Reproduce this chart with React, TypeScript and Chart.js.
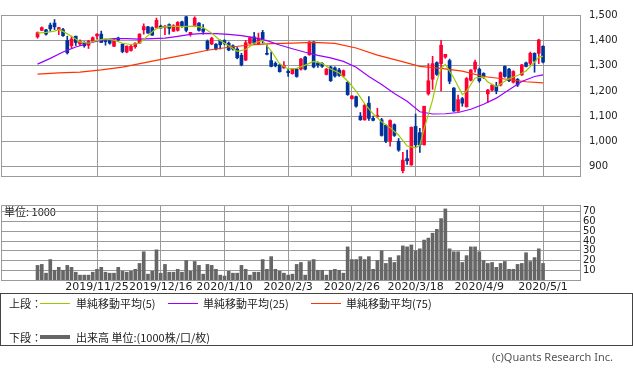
import React, { useEffect, useRef } from "react";
import { Chart, registerables } from "chart.js";
Chart.register(...registerables);

// ---- data ----
const DATE_LABELS = ["2019/11/25", "2019/12/16", "2020/1/10", "2020/2/3", "2020/2/26", "2020/3/18", "2020/4/9", "2020/5/1"];
const DATE_AT = [14, 29, 44, 59, 74, 89, 104, 119];

const OPEN = [
  1415, 1441, 1443, 1462, 1470, 1444, 1444, 1401, 1380, 1418,
  1387, 1392, 1382, 1398, 1419, 1426, 1398, 1401, 1378, 1411,
  1386, 1355, 1361, 1376, 1390, 1443, 1455, 1452, 1452, 1458,
  1453, 1464, 1438, 1441, 1475, 1495, 1427, 1458, 1470, 1446,
  1398, 1387, 1386, 1401, 1401, 1390, 1380, 1367, 1342, 1323,
  1390, 1415, 1387, 1433, 1350, 1321, 1310, 1304, 1292, 1279,
  1269, 1287, 1287, 1335, 1344, 1395, 1312, 1310, 1266, 1296,
  1292, 1284, 1260, 1235, 1170, 1178, 1101, 1086, 1152, 1092,
  1098, 1086, 1064, 1001, 1067, 1001, 884, 932, 907, 1060,
  1035, 987, 1189, 1247, 1313, 1309, 1335, 1321, 1212, 1121,
  1170, 1138, 1243, 1287, 1287, 1270, 1189, 1204, 1220, 1224,
  1298, 1287, 1235, 1247, 1264, 1312, 1310, 1350, 1350, 1378,
];
const HIGH = [
  1435, 1455, 1445, 1470, 1484, 1453, 1449, 1418, 1418, 1418,
  1403, 1396, 1401, 1415, 1428, 1438, 1407, 1406, 1406, 1414,
  1389, 1380, 1384, 1392, 1428, 1467, 1457, 1455, 1490, 1462,
  1460, 1467, 1464, 1476, 1478, 1497, 1433, 1495, 1472, 1464,
  1403, 1414, 1389, 1403, 1404, 1395, 1384, 1373, 1350, 1401,
  1414, 1433, 1430, 1441, 1384, 1355, 1316, 1307, 1317, 1287,
  1290, 1290, 1330, 1338, 1397, 1397, 1316, 1313, 1290, 1299,
  1296, 1290, 1284, 1238, 1181, 1180, 1115, 1147, 1178, 1101,
  1132, 1092, 1067, 1086, 1070, 1012, 957, 966, 1058, 1109,
  1052, 1140, 1309, 1338, 1316, 1401, 1346, 1327, 1214, 1184,
  1175, 1254, 1285, 1323, 1292, 1273, 1207, 1227, 1235, 1276,
  1300, 1290, 1281, 1250, 1306, 1315, 1355, 1352, 1406, 1380,
];
const LOW = [
  1410, 1440, 1422, 1438, 1444, 1424, 1417, 1347, 1369, 1381,
  1380, 1374, 1369, 1395, 1406, 1393, 1382, 1386, 1376, 1401,
  1352, 1352, 1358, 1370, 1388, 1426, 1430, 1421, 1447, 1450,
  1424, 1426, 1436, 1438, 1453, 1435, 1418, 1455, 1438, 1426,
  1361, 1384, 1363, 1367, 1383, 1360, 1362, 1328, 1300, 1321,
  1387, 1384, 1384, 1390, 1344, 1296, 1296, 1275, 1290, 1258,
  1267, 1255, 1283, 1284, 1342, 1292, 1294, 1294, 1264, 1238,
  1255, 1258, 1256, 1183, 1168, 1136, 1084, 1084, 1084, 1082,
  1095, 1021, 995, 981, 1020, 961, 875, 909, 905, 978,
  957, 985, 1184, 1207, 1262, 1201, 1330, 1229, 1119, 1119,
  1140, 1136, 1240, 1275, 1235, 1250, 1155, 1200, 1189, 1220,
  1255, 1237, 1232, 1218, 1262, 1296, 1305, 1275, 1309, 1312,
];
const CLOSE = [
  1432, 1452, 1426, 1447, 1455, 1452, 1420, 1352, 1407, 1393,
  1398, 1380, 1398, 1412, 1426, 1393, 1396, 1390, 1404, 1403,
  1357, 1378, 1378, 1390, 1426, 1456, 1430, 1422, 1481, 1450,
  1458, 1449, 1460, 1473, 1458, 1441, 1433, 1490, 1441, 1437,
  1367, 1410, 1367, 1384, 1390, 1363, 1367, 1332, 1304, 1392,
  1412, 1390, 1410, 1407, 1346, 1298, 1300, 1277, 1301, 1273,
  1287, 1258, 1327, 1287, 1395, 1296, 1303, 1298, 1287, 1241,
  1260, 1262, 1281, 1186, 1181, 1140, 1086, 1144, 1092, 1084,
  1103, 1024, 1001, 1083, 1024, 966, 926, 923, 1056, 987,
  987, 1140, 1241, 1309, 1266, 1382, 1346, 1239, 1121, 1166,
  1152, 1250, 1284, 1315, 1241, 1258, 1204, 1224, 1201, 1273,
  1258, 1241, 1278, 1224, 1304, 1298, 1350, 1319, 1403, 1315,
];
const VOLUME = [
  15, 16, 7, 21, 10, 13, 10, 15, 13, 8, 5, 5, 5, 8, 11,
  13, 8, 7, 7, 13, 9, 8, 9, 11, 17,
  29, 6, 9, 31, 7, 16, 8, 8, 11, 8,
  20, 9, 19, 15, 6, 16, 15, 11, 5, 4,
  9, 7, 7, 15, 11, 5, 8, 8, 21, 11,
  24, 11, 9, 7, 5, 6, 16, 18, 5, 19,
  21, 10, 10, 5, 10, 11, 10, 7, 34,
  21, 21, 24, 21, 24, 11, 20, 30, 17, 23, 18,
  25, 35, 34, 36, 30, 32, 41, 43, 48, 52, 63, 73,
  32, 29, 29, 18, 25, 34, 34, 29, 20, 17, 18, 13,
  17, 19, 11, 11, 16, 17, 28, 19, 23, 32, 17,
];

const MA5_AT = [0, 2, 4, 5, 6, 8, 10, 12, 14, 16, 18, 20, 22, 24, 26, 28, 31, 34, 37, 39, 41, 43, 45, 47, 49, 51, 53, 55, 57, 59, 61, 63, 65, 67, 69, 71, 73, 75, 77, 79, 81, 83, 85, 87, 89, 90, 91, 93, 94, 95, 96, 98, 100, 101, 103, 105, 106, 108, 109, 111, 113, 115, 117, 118, 119];
const MA5 = [1430, 1433, 1438, 1444, 1437, 1418, 1395, 1390, 1401, 1407, 1402, 1390, 1385, 1390, 1420, 1449, 1458, 1456, 1458, 1452, 1430, 1401, 1380, 1358, 1365, 1390, 1401, 1360, 1308, 1288, 1290, 1303, 1318, 1310, 1288, 1272, 1240, 1200, 1150, 1110, 1078, 1055, 1025, 982, 975, 985, 1050, 1165, 1240, 1290, 1306, 1252, 1186, 1200, 1252, 1255, 1236, 1218, 1228, 1250, 1262, 1280, 1315, 1335, 1338];
const MA25_AT = [0, 3, 6, 9, 12, 15, 18, 21, 24, 27, 30, 33, 36, 39, 42, 45, 48, 51, 54, 57, 60, 63, 66, 69, 72, 75, 78, 81, 84, 87, 90, 93, 96, 99, 102, 105, 108, 111, 114, 117, 119];
const MA25 = [1307, 1330, 1355, 1375, 1390, 1402, 1408, 1408, 1406, 1408, 1410, 1417, 1425, 1429, 1428, 1425, 1420, 1412, 1400, 1383, 1368, 1354, 1342, 1332, 1318, 1295, 1258, 1226, 1190, 1160, 1118, 1109, 1110, 1115, 1128, 1148, 1172, 1205, 1238, 1258, 1264];
const MA75_AT = [0, 5, 10, 15, 20, 25, 30, 35, 40, 45, 50, 55, 60, 65, 70, 75, 80, 85, 90, 95, 100, 105, 110, 115, 119];
const MA75 = [1267, 1272, 1275, 1284, 1295, 1312, 1329, 1345, 1362, 1374, 1383, 1388, 1390, 1393, 1389, 1371, 1343, 1321, 1298, 1290, 1279, 1258, 1248, 1237, 1233];

const PRICE_TICKS = [900, 1000, 1100, 1200, 1300, 1400, 1500];
const VOLUME_TICKS = [10, 20, 30, 40, 50, 60, 70];

// ---- styling ----
const X_MIN = -8.6;
const X_MAX = 127.7;
const UP = "#ff0033";
const DOWN = "#003399";
const GRID = "#9a9a9a";
const TEXT = "#222222";
const JP = '"Noto Sans CJK JP", sans-serif';

const framePlugin = {
  id: "frame",
  beforeDatasetsDraw(chart: any) {
    const { ctx, chartArea: a } = chart;
    ctx.save();
    ctx.strokeStyle = GRID;
    ctx.lineWidth = 1;
    ctx.beginPath();
    ctx.moveTo(Math.round(a.left) + 0.5, Math.round(a.bottom));
    ctx.lineTo(Math.round(a.left) + 0.5, Math.round(a.top) + 0.5);
    ctx.lineTo(Math.round(a.right), Math.round(a.top) + 0.5);
    ctx.stroke();
    ctx.restore();
  },
};

const unitPlugin = {
  id: "unitText",
  beforeDraw(chart: any) {
    const { ctx, chartArea: a } = chart;
    ctx.save();
    ctx.fillStyle = TEXT;
    ctx.font = `11px ${JP}`;
    ctx.textBaseline = "middle";
    ctx.textAlign = "left";
    ctx.fillText("単位: 1000", 4, a.top + 7);
    ctx.restore();
  },
};

const xAxis = (showLabels: boolean) => ({
  type: "linear" as const,
  min: X_MIN,
  max: X_MAX,
  offset: false,
  afterBuildTicks: (s: any) => {
    s.ticks = DATE_AT.map((v) => ({ value: v }));
  },
  afterFit: (s: any) => {
    s.height = showLabels ? 14 : 0;
  },
  grid: { color: GRID, drawTicks: false, lineWidth: 1, offset: false },
  border: { color: GRID },
  ticks: {
    display: showLabels,
    autoSkip: false,
    maxRotation: 0,
    padding: 1,
    color: TEXT,
    font: { family: "DejaVu Sans", size: 11 },
    callback: (v: any) => {
      const k = DATE_AT.indexOf(Number(v));
      return k >= 0 ? DATE_LABELS[k] : "";
    },
  },
});

export default function App() {
  const priceRef = useRef<HTMLCanvasElement>(null);
  const volRef = useRef<HTMLCanvasElement>(null);

  useEffect(() => {
    const idx = OPEN.map((_, i) => i);
    const colors = idx.map((i) => (CLOSE[i] >= OPEN[i] ? UP : DOWN));

    const price = new Chart(priceRef.current!, {
      type: "bar",
      data: {
        datasets: [
          {
            type: "line",
            data: MA5_AT.map((x, k) => ({ x, y: MA5[k] })),
            borderColor: "#99cc00",
            borderWidth: 1.2,
            pointRadius: 0,
            order: 0,
          } as any,
          {
            type: "line",
            data: MA25_AT.map((x, k) => ({ x, y: MA25[k] })),
            borderColor: "#9900ff",
            borderWidth: 1.2,
            pointRadius: 0,
            order: 0,
          } as any,
          {
            type: "line",
            data: MA75_AT.map((x, k) => ({ x, y: MA75[k] })),
            borderColor: "#ff3300",
            borderWidth: 1.2,
            pointRadius: 0,
            order: 0,
          } as any,
          {
            type: "bar",
            data: idx.map((i) => ({ x: i, y: [LOW[i], HIGH[i]] })),
            backgroundColor: colors,
            barThickness: 1,
            grouped: false,
            order: 2,
          } as any,
          {
            type: "bar",
            data: idx.map((i) => ({ x: i, y: [OPEN[i], CLOSE[i]] })),
            backgroundColor: colors,
            barThickness: 3,
            minBarLength: 1,
            grouped: false,
            order: 1,
          } as any,
        ],
      },
      options: {
        animation: false,
        responsive: false,
        devicePixelRatio: 1,
        layout: { padding: { left: 1, top: 4, right: 0, bottom: 1 } },
        plugins: { legend: { display: false }, tooltip: { enabled: false } },
        scales: {
          x: xAxis(false) as any,
          y: {
            position: "right",
            min: 863,
            max: 1502,
            afterBuildTicks: (s: any) => {
              s.ticks = PRICE_TICKS.map((v) => ({ value: v }));
            },
            afterFit: (s: any) => {
              s.width = 53;
            },
            grid: { color: GRID, drawTicks: false },
            border: { color: GRID },
            ticks: {
              autoSkip: false,
              padding: 9,
              color: TEXT,
              font: { family: "DejaVu Sans", size: 10 },
              callback: (v: any) => Number(v).toLocaleString("en-US"),
            },
          },
        },
      },
      plugins: [framePlugin],
    });

    const volume = new Chart(volRef.current!, {
      type: "bar",
      data: {
        datasets: [
          {
            data: idx.map((i) => ({ x: i, y: VOLUME[i] })),
            backgroundColor: "#666666",
            barThickness: 3,
            grouped: false,
          } as any,
        ],
      },
      options: {
        animation: false,
        responsive: false,
        devicePixelRatio: 1,
        layout: { padding: { left: 1, top: 6, right: 0, bottom: 2 } },
        plugins: { legend: { display: false }, tooltip: { enabled: false } },
        scales: {
          x: xAxis(true) as any,
          y: {
            position: "right",
            min: 0,
            max: 77,
            afterBuildTicks: (s: any) => {
              s.ticks = VOLUME_TICKS.map((v) => ({ value: v }));
            },
            afterFit: (s: any) => {
              s.width = 53;
            },
            grid: { color: GRID, drawTicks: false },
            border: { color: GRID },
            ticks: {
              autoSkip: false,
              padding: 3,
              color: TEXT,
              font: { family: "DejaVu Sans", size: 10 },
            },
          },
        },
      },
      plugins: [framePlugin, unitPlugin],
    });

    return () => {
      price.destroy();
      volume.destroy();
    };
  }, []);

  const txt = (left: number, center: number, s: string) => (
    <span
      style={{
        position: "absolute",
        left,
        top: center - 7,
        lineHeight: "14px",
        fontSize: 11,
        fontFamily: JP,
        color: TEXT,
        whiteSpace: "nowrap",
      }}
    >
      {s}
    </span>
  );
  const line = (left: number, center: number, w: number, h: number, color: string) => (
    <div
      style={{
        position: "absolute",
        left,
        top: center - Math.floor(h / 2),
        width: w,
        height: h,
        background: color,
      }}
    />
  );

  return (
    <div
      style={{
        position: "absolute",
        left: 0,
        top: 0,
        width: 633,
        height: 373,
        background: "#ffffff",
        overflow: "hidden",
      }}
    >
      <canvas
        ref={priceRef}
        width={633}
        height={191}
        style={{ position: "absolute", left: 0, top: 0, width: 633, height: 191 }}
      />
      <canvas
        ref={volRef}
        width={633}
        height={100}
        style={{ position: "absolute", left: 0, top: 196, width: 633, height: 100 }}
      />
      <div
        style={{
          position: "absolute",
          left: 0,
          top: 293,
          width: 631,
          height: 51,
          border: "1px solid #444",
        }}
      />
      {txt(9, 303, "上段：")}
      {line(40, 303, 30, 1, "#99cc00")}
      {txt(76, 303, "単純移動平均(5)")}
      {line(168, 303, 30, 1, "#9900ff")}
      {txt(203, 303, "単純移動平均(25)")}
      {line(311, 303, 30, 1, "#ff3300")}
      {txt(346, 303, "単純移動平均(75)")}
      {txt(9, 337, "下段：")}
      {line(40, 337, 30, 4, "#666666")}
      {txt(76, 337, "出来高 単位:(1000株/口/枚)")}
      <span
        style={{
          position: "absolute",
          right: 20,
          top: 350,
          lineHeight: "14px",
          fontSize: 11,
          fontFamily: '"Noto Sans", sans-serif',
          color: "#555",
          whiteSpace: "nowrap",
        }}
      >
        (c)Quants Research Inc.
      </span>
    </div>
  );
}
